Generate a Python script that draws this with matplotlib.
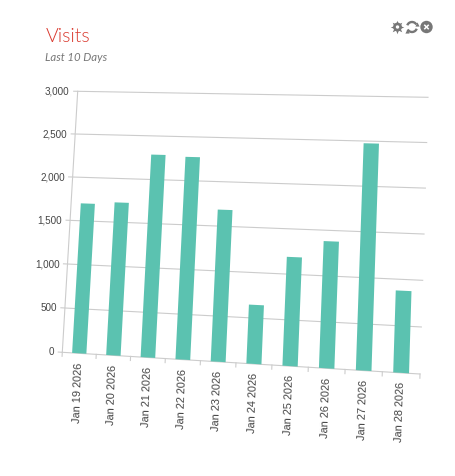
import numpy as np
import matplotlib
matplotlib.use('Agg')
import matplotlib.pyplot as plt
from matplotlib.transforms import Transform
from matplotlib.patches import Arc, Circle

# Chart data
days = ['Jan 19 2026', 'Jan 20 2026', 'Jan 21 2026', 'Jan 22 2026', 'Jan 23 2026',
        'Jan 24 2026', 'Jan 25 2026', 'Jan 26 2026', 'Jan 27 2026', 'Jan 28 2026']
visits = [1700, 1725, 2285, 2270, 1685, 645, 1190, 1380, 2475, 878]
y_ticks = [0, 500, 1000, 1500, 2000, 2500, 3000]

grey = '#cccccc'
label_colour = '#444444'
icon_colour = '#777777'


class Skew(Transform):
    # Projective map from (category, value) to picture pixels
    input_dims = 2
    output_dims = 2

    def __init__(self, src, dst):
        super().__init__()
        rows, rhs = [], []
        for (x, y), (px, py) in zip(src, dst):
            rows.append([x, y, 1, 0, 0, 0, -px * x, -px * y])
            rows.append([0, 0, 0, x, y, 1, -py * x, -py * y])
            rhs += [px, py]
        self.h = np.append(np.linalg.solve(np.array(rows, float), np.array(rhs, float)), 1).reshape(3, 3)

    def transform_non_affine(self, values):
        pts = np.column_stack([values, np.ones(len(values))]) @ self.h.T
        return pts[:, :2] / pts[:, 2:]


fig = plt.figure(figsize=(4.56, 4.77), dpi=100, facecolor='white')
ax = fig.add_axes([0, 0, 1, 1])
ax.set_axis_off()

skew = Skew([(0, 0), (10, 0), (10, 3000), (0, 3000)],
            [(62.3, 353.3), (420, 375), (428, 98.3), (77.7, 92.3)])
trans = skew + ax.transData

x = np.arange(len(days)) + 0.5
ax.bar(x, visits, 0.42, color='#5bc2b0', transform=trans, zorder=3)

# Grid lines and the little ticks on the left
for v in y_ticks:
    ax.plot([-0.12, 10], [v, v], color=grey, lw=0.8, transform=trans, zorder=2)
    ax.annotate(f'{v:,}', xy=(0, v), xycoords=trans, xytext=(-8, 1), textcoords='offset pixels',
                ha='right', va='center', fontsize=7.1, color=label_colour,
                family='Liberation Sans')

# Axis lines and ticks below
ax.plot([0, 0], [0, 3000], color=grey, lw=0.8, transform=trans, zorder=2)
for i in range(len(days) + 1):
    ax.plot([i, i], [0, -45], color=grey, lw=0.8, transform=trans, zorder=2)

for pos, day in zip(x, days):
    ax.annotate(day, xy=(pos, 0), xycoords=trans, xytext=(-1, -8), textcoords='offset pixels',
                ha='center', va='top', rotation=88, fontsize=7.9, color=label_colour,
                family='Liberation Sans')

ax.set_xlim(0, 456)
ax.set_ylim(477, 0)

# Title block
ax.text(46, 36, 'Visits', fontsize=14, color='#d9362b', family='Lato', weight=300,
        ha='left', va='center')
ax.text(45, 57.5, 'Last 10 Days', fontsize=8.2, color='#777777', family='Lato', style='italic',
        ha='left', va='center')

# Gear icon
ax.scatter([397.5], [28], s=95, marker=(8, 1, 0), color=icon_colour, linewidths=0, zorder=5)
ax.add_patch(Circle((397.5, 28), 4.4, color=icon_colour, lw=0, zorder=5))
ax.add_patch(Circle((397.5, 28), 1.7, color='white', lw=0, zorder=6))

# Refresh icon
ax.add_patch(Arc((412, 28), 10, 10, theta1=200, theta2=330, color=icon_colour, lw=1.7, zorder=5))
ax.add_patch(Arc((412, 28), 10, 10, theta1=20, theta2=150, color=icon_colour, lw=1.7, zorder=5))
ax.scatter([417, 407], [24.5, 31.5], s=9, marker='^', color=icon_colour, linewidths=0, zorder=5)

# Close icon
ax.add_patch(Circle((426.5, 28), 6.2, color=icon_colour, lw=0, zorder=5))
ax.plot([424.8, 428.2], [26.3, 29.7], color='white', lw=1.1, zorder=6)
ax.plot([424.8, 428.2], [29.7, 26.3], color='white', lw=1.1, zorder=6)

fig.savefig('out.png', dpi=100, facecolor='white')
